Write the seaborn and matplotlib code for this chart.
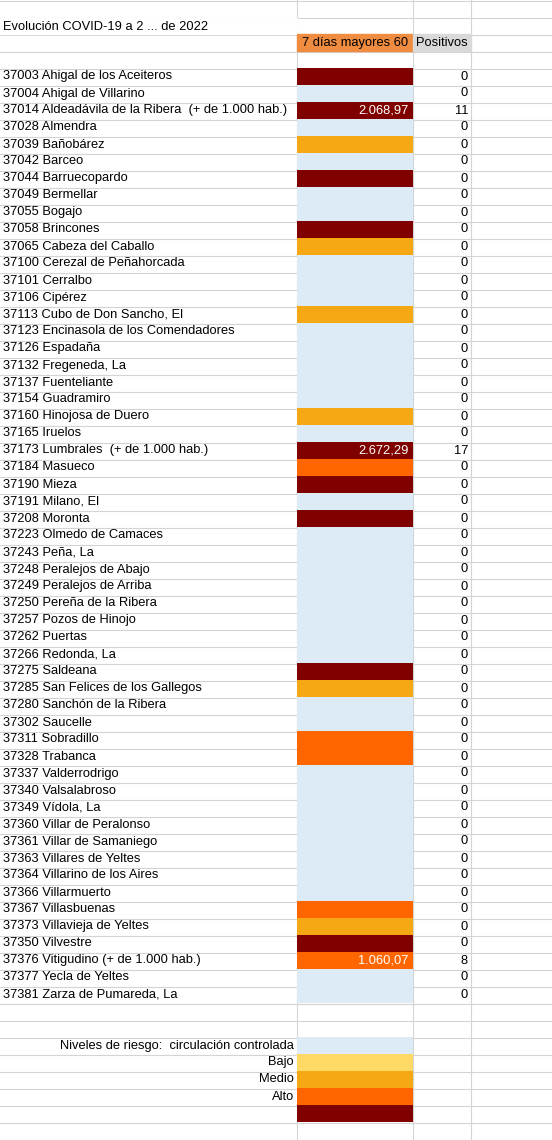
import numpy as np
import matplotlib.pyplot as plt
import seaborn as sns
from matplotlib.colors import ListedColormap

plt.rcParams['font.family'] = ['Liberation Sans', 'DejaVu Sans']

# datos
municipios = [
    "37003 Ahigal de los Aceiteros", "37004 Ahigal de Villarino",
    "37014 Aldeadávila de la Ribera  (+ de 1.000 hab.)", "37028 Almendra",
    "37039 Bañobárez", "37042 Barceo", "37044 Barruecopardo", "37049 Bermellar",
    "37055 Bogajo", "37058 Brincones", "37065 Cabeza del Caballo",
    "37100 Cerezal de Peñahorcada", "37101 Cerralbo", "37106 Cipérez",
    "37113 Cubo de Don Sancho, El", "37123 Encinasola de los Comendadores",
    "37126 Espadaña", "37132 Fregeneda, La", "37137 Fuenteliante",
    "37154 Guadramiro", "37160 Hinojosa de Duero", "37165 Iruelos",
    "37173 Lumbrales  (+ de 1.000 hab.)", "37184 Masueco", "37190 Mieza",
    "37191 Milano, El", "37208 Moronta", "37223 Olmedo de Camaces",
    "37243 Peña, La", "37248 Peralejos de Abajo", "37249 Peralejos de Arriba",
    "37250 Pereña de la Ribera", "37257 Pozos de Hinojo", "37262 Puertas",
    "37266 Redonda, La", "37275 Saldeana", "37285 San Felices de los Gallegos",
    "37280 Sanchón de la Ribera", "37302 Saucelle", "37311 Sobradillo",
    "37328 Trabanca", "37337 Valderrodrigo", "37340 Valsalabroso",
    "37349 Vídola, La", "37360 Villar de Peralonso", "37361 Villar de Samaniego",
    "37363 Villares de Yeltes", "37364 Villarino de los Aires",
    "37366 Villarmuerto", "37367 Villasbuenas", "37373 Villavieja de Yeltes",
    "37350 Vilvestre", "37376 Vitigudino (+ de 1.000 hab.)",
    "37377 Yecla de Yeltes", "37381 Zarza de Pumareda, La",
]
# 0 controlada, 1 bajo, 2 medio, 3 alto, 4 muy alto
nivel = [4, 0, 4, 0, 2, 0, 4, 0, 0, 4, 2, 0, 0, 0, 2, 0, 0, 0, 0, 0, 2, 0,
         4, 3, 4, 0, 4, 0, 0, 0, 0, 0, 0, 0, 0, 4, 2, 0, 0, 3, 3, 0, 0, 0,
         0, 0, 0, 0, 0, 3, 2, 4, 3, 0, 0]
incidencia = {2: "2.068,97", 22: "2.672,29", 52: "1.060,07"}
positivos = [0, 0, 11] + [0] * 19 + [17] + [0] * 29 + [8, 0, 0]
niveles_leyenda = ["Niveles de riesgo:  circulación controlada", "Bajo", "Medio", "Alto", ""]
colores = ["#DDEBF7", "#FFD966", "#F5A814", "#FF6600", "#800000"]

W, H = 552, 1140
RH = 17
cols = [0, 297, 413, 471, 552]
fig = plt.figure(figsize=(W / 100, H / 100), dpi=100)
bg = fig.add_axes([0, 0, 1, 1])
bg.set_xlim(0, W)
bg.set_ylim(H, 0)
bg.axis('off')

for y in np.arange(0, H, RH):
    bg.axhline(y + 0.5, color='#D4D4D4', lw=0.8, zorder=0)
for x in cols[1:-1]:
    bg.axvline(x, color='#D4D4D4', lw=0.8, zorder=0)

fs = 9.3
bg.add_patch(plt.Rectangle((0, 18), 297, 16, color='white', zorder=1))
bg.text(3, 27, "Evolución COVID-19 a 2 ... de 2022", fontsize=fs, va='center', zorder=2)
bg.add_patch(plt.Rectangle((297, 34), 116, 17, color='#F08C40', zorder=1))
bg.add_patch(plt.Rectangle((413, 34), 58, 17, color='#D9D9D9', zorder=1))
bg.text(355, 43, "7 días mayores 60", fontsize=fs, ha='center', va='center', zorder=2)
bg.text(442, 43, "Positivos", fontsize=fs, ha='center', va='center', zorder=2)

y0 = 68
for i, (m, p) in enumerate(zip(municipios, positivos)):
    yc = y0 + i * RH + RH / 2
    bg.text(3, yc, m, fontsize=fs, va='center')
    bg.text(468, yc, str(p), fontsize=fs, ha='right', va='center')

cmap = ListedColormap(colores)
n = len(municipios)
ax = fig.add_axes([297 / W, 1 - (y0 + n * RH) / H, 116 / W, n * RH / H])
sns.heatmap(np.array(nivel).reshape(-1, 1), ax=ax, cmap=cmap, vmin=-0.5, vmax=4.5,
            cbar=False, xticklabels=False, yticklabels=False)
for i, v in incidencia.items():
    ax.text(0.96, i + 0.5, v, color='white', fontsize=fs, ha='right', va='center')

ly = 1037
ax2 = fig.add_axes([297 / W, 1 - (ly + 5 * RH) / H, 116 / W, 5 * RH / H])
sns.heatmap(np.arange(5).reshape(-1, 1), ax=ax2, cmap=cmap, vmin=-0.5, vmax=4.5,
            cbar=False, xticklabels=False, yticklabels=False)
for i, t in enumerate(niveles_leyenda):
    bg.text(294, ly + i * RH + RH / 2, t, fontsize=fs, ha='right', va='center')

fig.savefig("out.png", dpi=100)
